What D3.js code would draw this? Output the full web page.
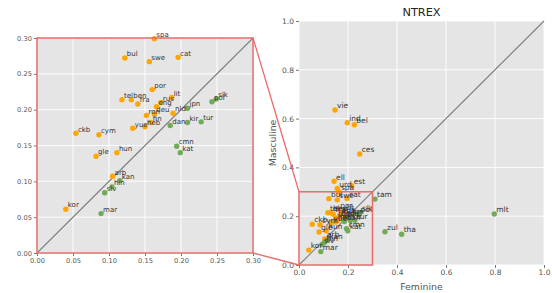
<!DOCTYPE html>
<html>
<head>
<meta charset="utf-8">
<script src="https://cdn.jsdelivr.net/npm/d3@7"></script>
<style>
body { margin: 0; background: #fff; }
text { font-family: "DejaVu Sans", sans-serif; }
</style>
</head>
<body>
<div id="chart"></div>
<script>
// language codes, feminine score (x), masculine score (y)
var langs = ['spa','bul','swe','cat','por','tel','ben','fra','rus','lit','eng','ron','deu','nld','fin','yue','heb',
  'ckb','cym','gle','hun','arb','kor','vie','ind','bel','ces','ell','est','urd',
  'jpn','dan','kir','tur','pol','slk','cmn','kat','kan','hin','slv','mar','tam','zul','tha','mlt']
var feminine = [0.163,0.122,0.156,0.196,0.160,0.118,0.131,0.140,0.172,0.187,0.166,0.152,0.163,0.189,0.158,0.133,0.150,
  0.054,0.086,0.082,0.111,0.105,0.040,0.147,0.197,0.226,0.248,0.143,0.215,0.156,
  0.209,0.185,0.209,0.228,0.243,0.249,0.194,0.199,0.115,0.104,0.094,0.089,0.310,0.351,0.419,0.797]
var masculine = [0.299,0.272,0.267,0.273,0.228,0.214,0.214,0.208,0.210,0.217,0.204,0.192,0.194,0.195,0.182,0.174,0.176,
  0.167,0.165,0.135,0.140,0.107,0.061,0.635,0.583,0.575,0.455,0.343,0.325,0.314,
  0.202,0.178,0.182,0.183,0.211,0.215,0.149,0.140,0.101,0.092,0.084,0.055,0.270,0.136,0.126,0.209]
var zoomTicks = [0, 0.05, 0.10, 0.15, 0.20, 0.25, 0.30]
var fullTicks = [0, 0.2, 0.4, 0.6, 0.8, 1.0]

var data = langs.map(function(l, i){ return {lang: l, f: feminine[i], m: masculine[i]} })

var W = 552, H = 293
var bg = '#e5e5e5', red = '#e86a6a', orange = '#ffa500', green = '#72ab58'

var svg = d3.select('#chart').append('svg').attr('width', W).attr('height', H)

function panel(x0, x1, y0, y1, ticks, fmt, fsTick, fsLab, domain, clip){
  var x = d3.scaleLinear().domain([0, domain]).range([x0, x1])
  var y = d3.scaleLinear().domain([0, domain]).range([y1, y0])
  var g = svg.append('g')

  g.append('rect').attr('x', x0).attr('y', y0).attr('width', x1 - x0).attr('height', y1 - y0).attr('fill', bg)

  // grid
  g.selectAll('.vg').data(ticks).enter().append('line')
    .attr('x1', d => x(d)).attr('x2', d => x(d)).attr('y1', y0).attr('y2', y1)
    .attr('stroke', '#fff').attr('stroke-width', 0.9)
  g.selectAll('.hg').data(ticks).enter().append('line')
    .attr('y1', d => y(d)).attr('y2', d => y(d)).attr('x1', x0).attr('x2', x1)
    .attr('stroke', '#fff').attr('stroke-width', 0.9)

  // tick labels via axes
  var xa = g.append('g').attr('transform', 'translate(0,' + y1 + ')')
    .call(d3.axisBottom(x).tickValues(ticks).tickFormat(d3.format(fmt)).tickSize(3).tickPadding(2))
  var ya = g.append('g').attr('transform', 'translate(' + x0 + ',0)')
    .call(d3.axisLeft(y).tickValues(ticks).tickFormat(d3.format(fmt)).tickSize(3).tickPadding(2))
  ;[xa, ya].forEach(function(a){
    a.select('.domain').remove()
    a.selectAll('line').attr('stroke', '#555').attr('stroke-width', 0.8)
    a.selectAll('text').attr('fill', '#555').style('font-size', fsTick + 'px').style('font-family', 'DejaVu Sans')
  })

  // diagonal
  g.append('line').attr('x1', x(0)).attr('y1', y(0)).attr('x2', x(domain)).attr('y2', y(domain))
    .attr('stroke', '#808080').attr('stroke-width', 1.1)

  var pts = data.filter(d => d.f <= domain + 0.001 && d.m <= domain + 0.001)
  g.selectAll('.pt').data(pts).enter().append('circle')
    .attr('cx', d => x(d.f)).attr('cy', d => y(d.m)).attr('r', 2.7)
    .attr('fill', d => d.m > d.f ? orange : green)
  g.selectAll('.lb').data(pts).enter().append('text')
    .attr('x', d => x(d.f) + 2).attr('y', d => y(d.m) - 1.8)
    .attr('fill', '#333').style('font-size', fsLab + 'px')
    .text(d => d.lang)
  return {x: x, y: y, g: g}
}

// zoomed panel on the left
var L = panel(37, 253, 38, 253, zoomTicks, '.2f', 6.7, 7, 0.3)
svg.append('rect').attr('x', 37).attr('y', 38).attr('width', 216).attr('height', 215)
  .attr('fill', 'none').attr('stroke', red).attr('stroke-width', 1.5)

// full panel on the right
var R = panel(299, 544, 21, 265, fullTicks, '.1f', 7.5, 7.5, 1.0)
svg.append('rect').attr('x', R.x(0)).attr('y', R.y(0.3))
  .attr('width', R.x(0.3) - R.x(0)).attr('height', R.y(0) - R.y(0.3))
  .attr('fill', 'none').attr('stroke', red).attr('stroke-width', 1.5)

// connectors
svg.append('line').attr('x1', 253).attr('y1', 38).attr('x2', R.x(0)).attr('y2', R.y(0.3))
  .attr('stroke', red).attr('stroke-width', 1.3)
svg.append('line').attr('x1', 253).attr('y1', 253).attr('x2', R.x(0)).attr('y2', R.y(0))
  .attr('stroke', red).attr('stroke-width', 1.3)

// title and axis labels
svg.append('text').attr('x', 421.5).attr('y', 16).attr('text-anchor', 'middle')
  .attr('fill', '#222').style('font-size', '11.3px').text('NTREX')
svg.append('text').attr('x', 421.5).attr('y', 290).attr('text-anchor', 'middle')
  .attr('fill', '#555').style('font-size', '9.4px').text('Feminine')
svg.append('text').attr('transform', 'translate(276,143) rotate(-90)').attr('text-anchor', 'middle')
  .attr('fill', '#555').style('font-size', '9.4px').text('Masculine')
</script>
</body>
</html>
